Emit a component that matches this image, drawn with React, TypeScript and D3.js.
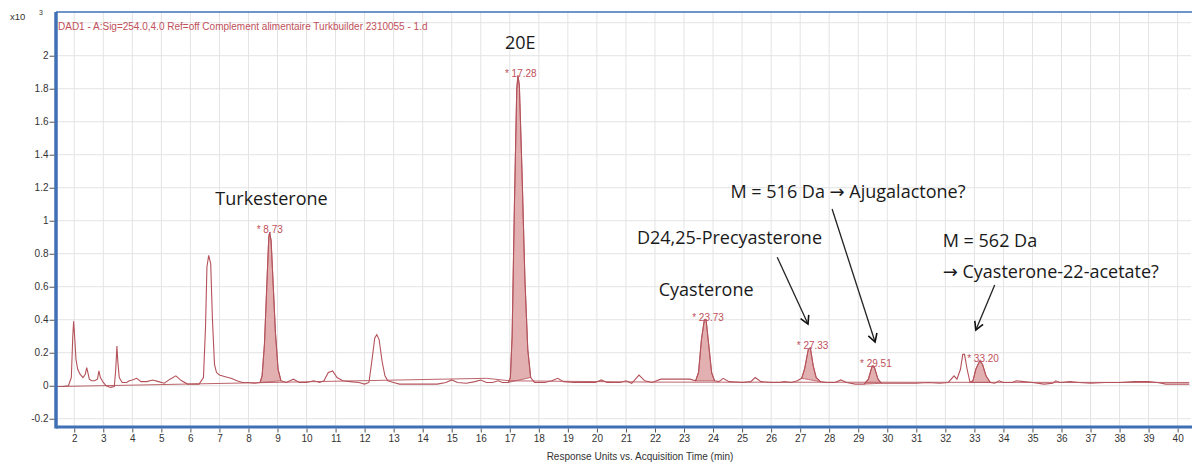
import React, { useEffect, useRef } from 'react';
import * as d3 from 'd3';

// DAD trace, [retention time (min), response (x10^3)]
const signal: [number, number][] = [
  [1.40, -0.005], [1.60, -0.005], [1.80, 0.0], [1.90, 0.05], [1.95, 0.30], [1.98, 0.39],
  [2.02, 0.28], [2.06, 0.16], [2.12, 0.10], [2.20, 0.07], [2.30, 0.05], [2.38, 0.07],
  [2.43, 0.11], [2.47, 0.08], [2.52, 0.04], [2.60, 0.03], [2.70, 0.03], [2.80, 0.04],
  [2.85, 0.09], [2.90, 0.05], [3.00, 0.02], [3.10, 0.0], [3.25, -0.01], [3.38, -0.005],
  [3.43, 0.10], [3.47, 0.24], [3.50, 0.15], [3.55, 0.05], [3.65, 0.02], [3.80, 0.02],
  [3.90, 0.03], [4.00, 0.035], [4.15, 0.045], [4.30, 0.025], [4.50, 0.025], [4.70, 0.035],
  [4.90, 0.025], [5.10, 0.015], [5.30, 0.04], [5.50, 0.06], [5.70, 0.03], [5.90, 0.01],
  [6.10, 0.01], [6.30, 0.01], [6.45, 0.05], [6.52, 0.35], [6.57, 0.72], [6.63, 0.79],
  [6.70, 0.74], [6.76, 0.40], [6.83, 0.13], [6.90, 0.08], [7.00, 0.065], [7.20, 0.055],
  [7.40, 0.045], [7.60, 0.03], [7.80, 0.02], [8.00, 0.02], [8.20, 0.015], [8.40, 0.02],
  [8.47, 0.06], [8.55, 0.25], [8.63, 0.60], [8.70, 0.90], [8.73, 0.93], [8.78, 0.88],
  [8.85, 0.62], [8.93, 0.32], [9.02, 0.10], [9.12, 0.03], [9.30, 0.02], [9.55, 0.04],
  [9.75, 0.02], [10.0, 0.02], [10.25, 0.03], [10.45, 0.02], [10.60, 0.03], [10.75, 0.08],
  [10.90, 0.09], [11.05, 0.05], [11.25, 0.03], [11.50, 0.025], [11.80, 0.02], [12.00, 0.01],
  [12.15, 0.02], [12.25, 0.15], [12.35, 0.29], [12.42, 0.31], [12.50, 0.28], [12.60, 0.15],
  [12.70, 0.06], [12.80, 0.03], [13.00, 0.02], [13.20, 0.01], [13.50, 0.01], [14.00, 0.01],
  [14.50, 0.01], [14.80, 0.02], [15.00, 0.035], [15.20, 0.02], [15.50, 0.015], [15.80, 0.025],
  [16.00, 0.035], [16.20, 0.02], [16.40, 0.02], [16.60, 0.03], [16.75, 0.02], [16.95, 0.02],
  [17.02, 0.05], [17.08, 0.30], [17.16, 1.10], [17.24, 1.80], [17.28, 1.88], [17.33, 1.82],
  [17.42, 1.30], [17.52, 0.65], [17.62, 0.22], [17.72, 0.05], [17.85, 0.02], [18.20, 0.02],
  [18.45, 0.03], [18.65, 0.045], [18.85, 0.025], [19.20, 0.02], [19.60, 0.02], [19.95, 0.02],
  [20.15, 0.035], [20.35, 0.02], [20.80, 0.02], [21.00, 0.03], [21.20, 0.015], [21.45, 0.065],
  [21.65, 0.03], [21.90, 0.02], [22.20, 0.04], [22.60, 0.04], [23.00, 0.04], [23.20, 0.04],
  [23.40, 0.03], [23.50, 0.08], [23.60, 0.28], [23.70, 0.40], [23.76, 0.40], [23.85, 0.25],
  [23.95, 0.08], [24.05, 0.03], [24.20, 0.025], [24.35, 0.045], [24.55, 0.025], [25.00, 0.02],
  [25.30, 0.025], [25.45, 0.05], [25.65, 0.025], [26.00, 0.02], [26.30, 0.02], [26.45, 0.025],
  [26.70, 0.02], [26.90, 0.03], [27.05, 0.045], [27.15, 0.10], [27.28, 0.22], [27.35, 0.23],
  [27.45, 0.12], [27.55, 0.05], [27.70, 0.025], [27.90, 0.02], [28.20, 0.02], [28.40, 0.035],
  [28.60, 0.02], [28.90, 0.01], [29.20, 0.01], [29.35, 0.04], [29.48, 0.12], [29.56, 0.11],
  [29.68, 0.04], [29.80, 0.015], [30.20, 0.015], [30.60, 0.015], [31.00, 0.015], [31.40, 0.02],
  [31.80, 0.015], [32.10, 0.02], [32.30, 0.06], [32.40, 0.04], [32.52, 0.10], [32.60, 0.19],
  [32.66, 0.19], [32.75, 0.10], [32.85, 0.02], [32.95, 0.03], [33.05, 0.10], [33.18, 0.15],
  [33.28, 0.13], [33.40, 0.06], [33.55, 0.02], [33.70, 0.015], [33.85, 0.03], [34.00, 0.02],
  [34.30, 0.02], [34.45, 0.03], [34.70, 0.025], [35.00, 0.02], [35.40, 0.01], [35.70, 0.015],
  [35.80, 0.03], [35.95, 0.02], [36.30, 0.025], [36.60, 0.02], [37.00, 0.015], [37.50, 0.02],
  [38.00, 0.02], [38.50, 0.025], [39.00, 0.025], [39.30, 0.02], [39.60, 0.01], [40.00, 0.01],
  [40.40, 0.01],
];

// reference / drift line
const baseline: [number, number][] = [
  [1.40, -0.005], [16.2, 0.045], [17.0, 0.03], [22.0, 0.022], [40.4, 0.02],
];

// integrated peaks: label, start, end
const peakLabels = ['8.73', '17.28', '23.73', '27.33', '29.51', '33.20'];
const peakStarts = [8.40, 16.95, 23.40, 27.05, 29.20, 32.85];
const peakEnds = [9.12, 17.72, 24.05, 27.70, 29.80, 33.55];

const xTicks = d3.range(2, 41);
const yTicks = [-0.2, 0, 0.2, 0.4, 0.6, 0.8, 1, 1.2, 1.4, 1.6, 1.8, 2];
const yGrid = [-0.2, 0, 0.2, 0.4, 0.6, 0.8, 1, 1.2, 1.4, 1.6, 1.8, 2, 2.2];

// annotations in data units: text, t, v, anchor
const notes: [string, number, number, string][] = [
  ['20E', 17.36, 2.04, 'middle'],
  ['Turkesterone', 6.86, 1.095, 'start'],
  ['Cyasterone', 22.13, 0.544, 'start'],
  ['D24,25-Precyasterone', 21.38, 0.859, 'start'],
  ['M = 516 Da \u2192 Ajugalactone?', 24.60, 1.138, 'start'],
  ['M = 562 Da', 31.91, 0.841, 'start'],
  ['\u2192 Cyasterone-22-acetate?', 31.91, 0.653, 'start'],
];
const arrows: [number, number, number, number][] = [
  [26.21, 0.779, 27.27, 0.374],
  [28.10, 1.071, 29.58, 0.265],
  [33.70, 0.610, 33.05, 0.338],
];

const W = 1192, H = 466;
const margin = { top: 12, right: 1, bottom: 39, left: 56 };
const sans = 'Liberation Sans, Arial, sans-serif';

function App() {
  const ref = useRef<SVGSVGElement>(null);

  useEffect(() => {
    const svg = d3.select(ref.current);
    svg.selectAll('*').remove();

    const x = d3.scaleLinear().domain([1.372, 40.46]).range([margin.left, W - margin.right]);
    const y = d3.scaleLinear().domain([-0.25, 2.265]).range([H - margin.bottom, margin.top]);

    const traceColor = '#b4525a';
    const labelColor = '#c0505a';
    const frameColor = '#3f70b5';

    // grid
    svg.append('g').selectAll('line').data(xTicks).join('line')
      .attr('x1', d => x(d)).attr('x2', d => x(d))
      .attr('y1', margin.top).attr('y2', H - margin.bottom)
      .attr('stroke', '#e3e3e3');
    svg.append('g').selectAll('line').data(yGrid).join('line')
      .attr('x1', margin.left).attr('x2', W - margin.right)
      .attr('y1', d => y(d)).attr('y2', d => y(d))
      .attr('stroke', '#e3e3e3');

    svg.append('clipPath').attr('id', 'plot')
      .append('rect')
      .attr('x', margin.left).attr('y', margin.top)
      .attr('width', W - margin.left - margin.right)
      .attr('height', H - margin.top - margin.bottom);

    const plot = svg.append('g').attr('clip-path', 'url(#plot)');

    // integrated peak fills
    peakLabels.forEach((lab, i) => {
      const pts = signal.filter(p => p[0] >= peakStarts[i] && p[0] <= peakEnds[i]);
      const a = pts[0], b = pts[pts.length - 1];
      const base = (t: number) => a[1] + (b[1] - a[1]) * (t - a[0]) / (b[0] - a[0]);
      const area = d3.area<[number, number]>()
        .x(d => x(d[0]))
        .y0(d => y(base(d[0])))
        .y1(d => y(d[1]));
      plot.append('path')
        .datum(pts)
        .attr('d', area)
        .attr('fill', '#e2b0b0')
        .attr('stroke', traceColor)
        .attr('stroke-width', 0.8);
    });

    const line = d3.line<[number, number]>().x(d => x(d[0])).y(d => y(d[1]));
    plot.append('path').datum(baseline).attr('d', line)
      .attr('fill', 'none').attr('stroke', traceColor).attr('stroke-width', 0.9);
    plot.append('path').datum(signal).attr('d', line)
      .attr('fill', 'none').attr('stroke', traceColor).attr('stroke-width', 1.1);

    // peak labels
    peakLabels.forEach((lab, i) => {
      const apex = signal.filter(p => p[0] >= peakStarts[i] && p[0] <= peakEnds[i])
        .reduce((m, p) => (p[1] > m[1] ? p : m));
      svg.append('text')
        .attr('x', x(+lab) - 13)
        .attr('y', y(apex[1]) + 1)
        .attr('fill', labelColor)
        .style('font-family', sans)
        .style('font-size', '10px')
        .text('* ' + lab);
    });

    // frame
    svg.append('line')
      .attr('x1', margin.left).attr('x2', W)
      .attr('y1', margin.top).attr('y2', margin.top)
      .attr('stroke', frameColor).attr('stroke-width', 1.5);
    svg.append('line')
      .attr('x1', margin.left).attr('x2', W)
      .attr('y1', H - margin.bottom).attr('y2', H - margin.bottom)
      .attr('stroke', frameColor).attr('stroke-width', 3);
    svg.append('line')
      .attr('x1', margin.left).attr('x2', margin.left)
      .attr('y1', margin.top).attr('y2', H - margin.bottom + 1.5)
      .attr('stroke', frameColor).attr('stroke-width', 3.5);

    // axes
    const xAxis = svg.append('g')
      .attr('transform', `translate(0,${H - margin.bottom + 1.5})`)
      .call(d3.axisBottom(x).tickValues(xTicks).tickSize(4).tickPadding(2).tickFormat(d3.format('d')));
    xAxis.select('.domain').remove();
    xAxis.selectAll('line').attr('stroke', '#555');
    xAxis.selectAll('text').attr('fill', '#333')
      .style('font-family', sans).style('font-size', '10px');

    const yAxis = svg.append('g')
      .attr('transform', `translate(${margin.left - 1.5},0)`)
      .call(d3.axisLeft(y).tickValues(yTicks).tickSize(5).tickPadding(1).tickFormat(d => String(d)));
    yAxis.select('.domain').remove();
    yAxis.selectAll('line').attr('stroke', '#555');
    yAxis.selectAll('text').attr('fill', '#333')
      .style('font-family', sans).style('font-size', '10px');

    // header texts
    svg.append('text').attr('x', 10).attr('y', 20)
      .style('font-family', sans).style('font-size', '9.5px')
      .attr('fill', '#333').text('x10');
    svg.append('text').attr('x', 39).attr('y', 15)
      .style('font-family', sans).style('font-size', '7px')
      .attr('fill', '#333').text('3');
    svg.append('text').attr('x', margin.left + 2).attr('y', 30)
      .style('font-family', sans).style('font-size', '10px')
      .attr('fill', labelColor)
      .text('DAD1 - A:Sig=254.0,4.0  Ref=off Complement alimentaire Turkbuilder 2310055 - 1.d');
    svg.append('text').attr('x', 640).attr('y', 460)
      .attr('text-anchor', 'middle')
      .style('font-family', sans).style('font-size', '10px')
      .attr('fill', '#333').text('Response Units vs. Acquisition Time (min)');

    // annotations
    svg.append('defs').append('marker')
      .attr('id', 'head').attr('viewBox', '-10 -6 12 12')
      .attr('markerWidth', 12).attr('markerHeight', 12)
      .attr('markerUnits', 'userSpaceOnUse')
      .attr('orient', 'auto')
      .append('path').attr('d', 'M-8,-4.5 L0,0 L-8,4.5')
      .attr('fill', 'none').attr('stroke', '#111').attr('stroke-width', 1.6);

    svg.append('g').selectAll('line').data(arrows).join('line')
      .attr('x1', d => x(d[0])).attr('y1', d => y(d[1]))
      .attr('x2', d => x(d[2])).attr('y2', d => y(d[3]))
      .attr('stroke', '#222').attr('stroke-width', 1.3)
      .attr('marker-end', 'url(#head)');

    svg.append('g').selectAll('text').data(notes).join('text')
      .attr('x', d => x(d[1])).attr('y', d => y(d[2]))
      .attr('text-anchor', d => d[3])
      .attr('fill', '#1a1a1a')
      .style('font-family', "'Open Sans', 'DejaVu Sans', sans-serif")
      .style('font-size', '18px')
      .text(d => d[0]);
  }, []);

  return (
    <svg ref={ref} width={W} height={H}
      style={{ position: 'absolute', left: 0, top: 0, background: '#fff' }} />
  );
}

export default App;
